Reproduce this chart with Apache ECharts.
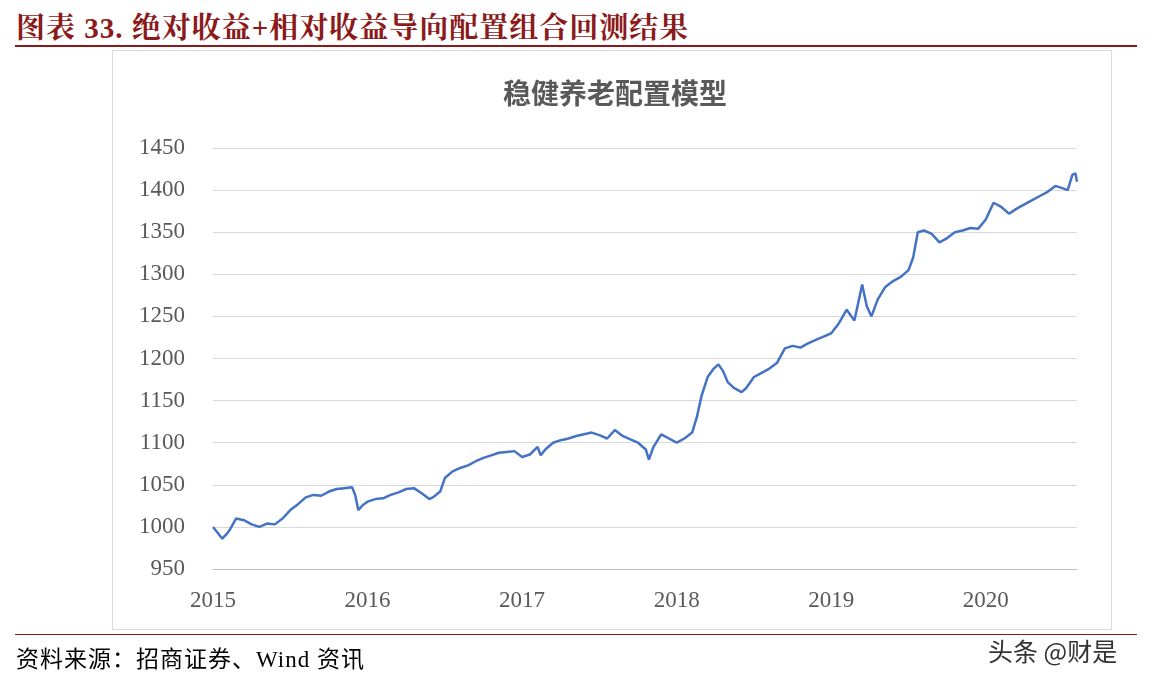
<!DOCTYPE html><html><head><meta charset="utf-8"><script src="https://cdn.jsdelivr.net/npm/echarts@6/dist/echarts.min.js"></script>
<style>body{margin:0;background:#fff;font-family:"Liberation Serif","Noto Sans CJK SC",serif}
#t{position:absolute;left:16px;top:5px;font-size:29px;letter-spacing:1px;font-weight:bold;color:#8B1A1A;font-family:"Liberation Serif","Noto Serif CJK SC","Noto Sans CJK SC"}
#l1{position:absolute;left:15px;top:45px;width:1122px;height:2px;background:#8B1A1A}
#box{position:absolute;left:112px;top:50px;width:998px;height:578px;border:1px solid #d9d9d9}
#c{position:absolute;left:0;top:0;width:1167px;height:680px}
#l2{position:absolute;left:15px;top:634px;width:1122px;height:1px;background:#8B1A1A}
#s{position:absolute;left:16px;top:640px;font-size:23px;letter-spacing:1px;color:#000;font-family:"Liberation Serif","Noto Sans CJK SC"}
#w{position:absolute;left:988px;top:632px;font-size:25px;color:#333;font-family:"Noto Sans CJK SC"}
</style></head><body>
<div id="t">图表 33. 绝对收益+相对收益导向配置组合回测结果</div><div id="l1"></div><div id="box"></div>
<div id="c"></div><div id="l2"></div><div id="s">资料来源：招商证券、Wind 资讯</div><div id="w">头条 @财是</div>
<script>
const years=[2015,2015.03,2015.06,2015.09,2015.11,2015.15,2015.2,2015.25,2015.3,2015.35,2015.4,2015.45,2015.5,2015.55,2015.6,2015.65,2015.7,2015.75,2015.8,2015.85,2015.9,2015.92,2015.94,2015.97,2016.0,2016.05,2016.1,2016.15,2016.2,2016.25,2016.3,2016.35,2016.4,2016.43,2016.47,2016.5,2016.55,2016.6,2016.65,2016.7,2016.75,2016.8,2016.85,2016.9,2016.95,2017.0,2017.05,2017.1,2017.12,2017.15,2017.2,2017.25,2017.3,2017.35,2017.4,2017.45,2017.5,2017.55,2017.6,2017.65,2017.7,2017.75,2017.8,2017.82,2017.85,2017.9,2017.95,2018.0,2018.05,2018.1,2018.13,2018.16,2018.2,2018.24,2018.27,2018.3,2018.33,2018.37,2018.42,2018.45,2018.5,2018.55,2018.6,2018.65,2018.7,2018.75,2018.8,2018.85,2018.9,2018.95,2019.0,2019.05,2019.1,2019.15,2019.2,2019.23,2019.26,2019.3,2019.35,2019.4,2019.45,2019.5,2019.53,2019.56,2019.6,2019.65,2019.7,2019.75,2019.8,2019.85,2019.9,2019.95,2020.0,2020.05,2020.1,2020.15,2020.2,2020.25,2020.3,2020.35,2020.4,2020.45,2020.5,2020.53,2020.56,2020.58,2020.59];
const values=[1000,993,986,992,997,1010,1008,1003,1000,1004,1003,1010,1020,1027,1035,1038,1037,1042,1045,1046,1047,1038,1020,1026,1030,1033,1034,1038,1041,1045,1046,1040,1033,1036,1042,1058,1066,1070,1073,1078,1082,1085,1088,1089,1090,1083,1086,1095,1085,1092,1100,1103,1105,1108,1110,1112,1109,1105,1115,1108,1104,1100,1092,1080,1095,1110,1105,1100,1105,1112,1130,1155,1178,1188,1193,1185,1172,1165,1160,1165,1178,1183,1188,1195,1212,1215,1213,1218,1222,1226,1230,1242,1258,1245,1288,1262,1250,1270,1285,1292,1297,1305,1320,1350,1352,1348,1338,1343,1350,1352,1355,1354,1365,1385,1380,1372,1378,1383,1388,1393,1398,1405,1402,1400,1418,1420,1410];
const data=years.map((y,i)=>[y,values[i]]);
const c=echarts.init(document.getElementById('c'));
c.setOption({animation:false,
title:{text:'稳健养老配置模型',left:610,top:74,textAlign:'center',textStyle:{fontSize:28,fontWeight:'bold',color:'#595959',fontFamily:'Noto Sans CJK SC'}},
grid:{left:213,right:90,top:148,bottom:111},
xAxis:{type:'value',min:2015,max:2020.59,interval:1,axisLine:{lineStyle:{color:'#bfbfbf'}},axisTick:{show:false},splitLine:{show:false},axisLabel:{color:'#595959',fontSize:23,fontFamily:'Liberation Serif',margin:20,showMaxLabel:false,formatter:v=>String(v)}},
yAxis:{type:'value',min:950,max:1450,interval:50,axisLine:{show:false},axisTick:{show:false},splitLine:{lineStyle:{color:'#d9d9d9'}},axisLabel:{color:'#595959',fontSize:23,fontFamily:'Liberation Serif',margin:28,formatter:v=>String(v)}},
series:[{type:'line',data:data,showSymbol:false,lineStyle:{color:'#4472C4',width:2.5}}]});
</script></body></html>
